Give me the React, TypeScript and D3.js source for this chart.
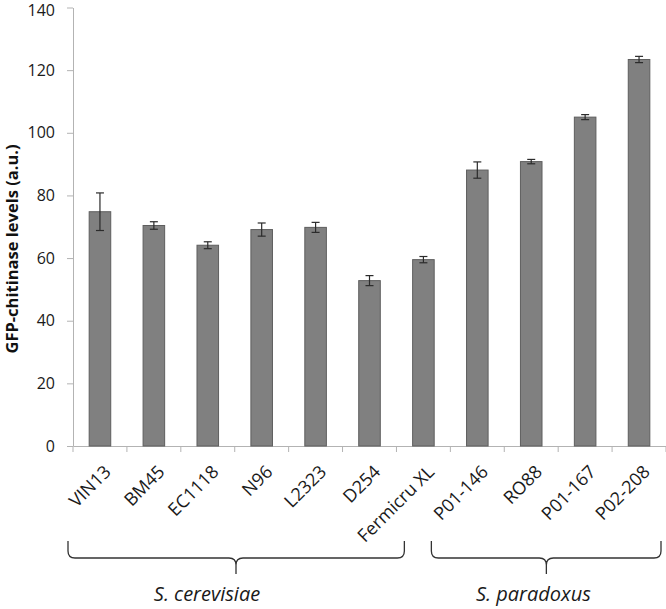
import * as d3 from 'd3'
import { useEffect, useRef } from 'react'

const categories = ['VIN13', 'BM45', 'EC1118', 'N96', 'L2323', 'D254', 'Fermicru XL', 'P01-146', 'RO88', 'P01-167', 'P02-208']
const values = [74.8, 70.4, 64.1, 69.1, 69.8, 52.8, 59.5, 88.1, 90.8, 105.0, 123.4]
const errors = [6.0, 1.2, 1.1, 2.1, 1.6, 1.6, 1.0, 2.6, 0.7, 0.8, 1.0]
const groupNames = ['S. cerevisiae', 'S. paradoxus']
const groupFirst = ['VIN13', 'P01-146']
const groupLast = ['Fermicru XL', 'P02-208']
const yTicks = [0, 20, 40, 60, 80, 100, 120, 140]

const FONT = "'Open Sans', sans-serif"

export default function App() {
  const ref = useRef<SVGSVGElement>(null)

  useEffect(() => {
    if (!ref.current) return
    const width = 666
    const height = 609
    const left = 73
    const right = 666
    const top = 7.5
    const bottom = 446

    const svg = d3.select(ref.current)
      .attr('width', width)
      .attr('height', height)
    svg.selectAll('*').remove()

    const x = d3.scaleBand().domain(categories).range([left, right]).paddingInner(0).paddingOuter(0)
    const y = d3.scaleLinear().domain([0, 140]).range([bottom, top])
    const bw = x.bandwidth()
    const barW = bw * 0.4

    // y axis
    const yAxis = svg.append('g').attr('transform', `translate(${left},0)`)
      .call(d3.axisLeft(y).tickValues(yTicks).tickSize(6).tickPadding(12).tickSizeOuter(0))
    yAxis.select('.domain').attr('stroke', '#b3b3b3')
    yAxis.selectAll('.tick line').attr('stroke', '#b3b3b3')
    yAxis.selectAll('.tick text')
      .attr('font-family', FONT).attr('font-size', 16).attr('fill', '#1a1a1a')
    yAxis.selectAll('.tick').filter(d => d === 140).select('text').attr('dy', '0.5em')

    // x axis
    const xAxis = svg.append('g').attr('transform', `translate(0,${bottom})`)
      .call(d3.axisBottom(x).tickSize(0).tickFormat(() => ''))
    xAxis.select('.domain').attr('stroke', '#b3b3b3')
    xAxis.selectAll('.tick').remove()
    const edges = categories.map(c => x(c)!).concat([right])
    svg.append('g').selectAll('line').data(edges).enter().append('line')
      .attr('x1', d => d).attr('x2', d => d)
      .attr('y1', bottom).attr('y2', bottom + 6)
      .attr('stroke', '#b3b3b3')

    // bars
    svg.append('g').selectAll('rect').data(values).enter().append('rect')
      .attr('x', (_d, i) => x(categories[i])! + (bw - barW) / 2)
      .attr('y', d => y(d))
      .attr('width', barW)
      .attr('height', d => bottom - y(d))
      .attr('fill', '#808080')
      .attr('stroke', '#5e5e5e')
      .attr('stroke-width', 1)

    // error bars
    const eb = svg.append('g').attr('stroke', '#2b2b2b').attr('stroke-width', 1.2)
    values.forEach((v, i) => {
      const cx = x(categories[i])! + bw / 2
      const hi = y(v + errors[i])
      const lo = y(v - errors[i])
      eb.append('line').attr('x1', cx).attr('x2', cx).attr('y1', hi).attr('y2', lo)
      eb.append('line').attr('x1', cx - 4).attr('x2', cx + 4).attr('y1', hi).attr('y2', hi)
      eb.append('line').attr('x1', cx - 4).attr('x2', cx + 4).attr('y1', lo).attr('y2', lo)
    })

    // category labels
    svg.append('g').selectAll('text').data(categories).enter().append('text')
      .attr('transform', d => `translate(${x(d)! + bw / 2 + 12},${bottom + 27}) rotate(-45)`)
      .attr('text-anchor', 'end')
      .attr('font-family', FONT).attr('font-size', 18).attr('fill', '#1a1a1a')
      .text(d => d)

    // y label
    svg.append('text')
      .attr('transform', `translate(18,249) rotate(-90)`)
      .attr('text-anchor', 'middle')
      .attr('font-family', FONT).attr('font-size', 16.5).attr('font-weight', 'bold').attr('fill', '#111')
      .text('GFP-chitinase levels (a.u.)')

    // group braces
    const braceX = [
      [x(groupFirst[0])! - 5, x(groupLast[0])! + bw - 46, x(groupFirst[0])! + 163],
      [x(groupFirst[1])! - 19, x(groupLast[1])! + bw - 5, x(groupFirst[1])! + 96],
    ]
    const yTop = 541
    const yMid = 558
    const yTip = 574
    braceX.forEach(([x0, x1, tip], gi) => {
      const r = 7
      const path = d3.path()
      path.moveTo(x0, yTop)
      path.lineTo(x0, yMid - r)
      path.quadraticCurveTo(x0, yMid, x0 + r, yMid)
      path.lineTo(tip - r, yMid)
      path.quadraticCurveTo(tip, yMid, tip, yMid + r)
      path.lineTo(tip, yTip)
      path.moveTo(tip, yMid + r)
      path.quadraticCurveTo(tip, yMid, tip + r, yMid)
      path.lineTo(x1 - r, yMid)
      path.quadraticCurveTo(x1, yMid, x1, yMid - r)
      path.lineTo(x1, yTop)
      svg.append('path').attr('d', path.toString())
        .attr('fill', 'none').attr('stroke', '#333').attr('stroke-width', 1.3)
      const labelX = gi === 0 ? tip - 29 : tip - 13
      svg.append('text')
        .attr('x', labelX).attr('y', 601)
        .attr('text-anchor', 'middle')
        .attr('font-family', FONT).attr('font-size', 20).attr('font-style', 'italic').attr('fill', '#1a1a1a')
        .text(groupNames[gi])
    })
  }, [])

  return (
    <div style={{ position: 'absolute', left: 0, top: 0, background: '#fff' }}>
      <svg ref={ref} style={{ display: 'block' }} />
    </div>
  )
}
